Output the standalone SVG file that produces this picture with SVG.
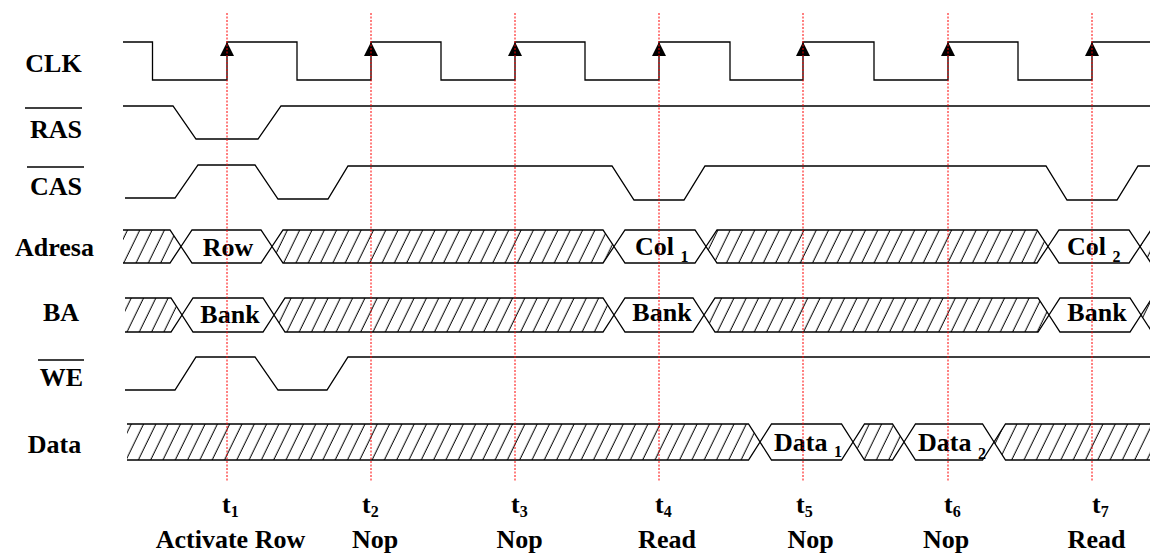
<svg xmlns="http://www.w3.org/2000/svg" xmlns:xlink="http://www.w3.org/1999/xlink" width="1150" height="555" viewBox="0 0 1150 555">
<style>
.lbl{font-family:"Liberation Serif","Times New Roman",serif;font-weight:bold;font-size:26px;fill:#000}
.sub{font-size:16px}
.sig{fill:none;stroke:#000;stroke-width:1.3}
.bus{stroke:#000;stroke-width:1.3;fill:#fff}
.hb{stroke:#000;stroke-width:1.3;fill:url(#hatch)}
.ov{stroke:#000;stroke-width:1.3}
.grid{stroke:#ff0000;stroke-width:1;stroke-dasharray:2 1.5}
</style>
<defs>
<pattern id="hatch" patternUnits="userSpaceOnUse" width="12.3" height="60" patternTransform="skewX(-26)">
<rect width="12.3" height="60" fill="#fff"/>
<line x1="6" y1="0" x2="6" y2="60" stroke="#000" stroke-width="1.1"/>
</pattern>
<path id="arr" d="M0,0 L-7,14 L7,14 Z" fill="#000"/>
</defs>
<rect width="1150" height="555" fill="#fff"/>

<g id="labels" class="lbl">
<text x="53.5" y="72" text-anchor="middle">CLK</text>
<text x="56" y="138" text-anchor="middle">RAS</text>
<line class="ov" x1="25" y1="108" x2="82" y2="108"/>
<text x="56" y="195" text-anchor="middle">CAS</text>
<line class="ov" x1="27" y1="167" x2="84" y2="167"/>
<text x="54.5" y="256" text-anchor="middle">Adresa</text>
<text x="61" y="321" text-anchor="middle">BA</text>
<text x="61.5" y="386" text-anchor="middle">WE</text>
<line class="ov" x1="38" y1="360" x2="84" y2="360"/>
<text x="54.5" y="453" text-anchor="middle">Data</text>
</g>

<g id="clk">
<path class="sig" d="M123,42 H152.5 V80 H227 V42 H297 V80 H371 V42 H441 V80 H515 V42 H585 V80 H659 V42 H730 V80 H803 V42 H874 V80 H948 V42 H1018 V80 H1092 V42 H1150"/>
<use xlink:href="#arr" x="227" y="42"/>
<use xlink:href="#arr" x="371" y="42"/>
<use xlink:href="#arr" x="515" y="42"/>
<use xlink:href="#arr" x="659" y="42"/>
<use xlink:href="#arr" x="803" y="42"/>
<use xlink:href="#arr" x="948" y="42"/>
<use xlink:href="#arr" x="1092" y="42"/>
</g>

<g id="ras">
<path class="sig" d="M123,106 H173 L196,139 H258 L281,106 H1150"/>
</g>

<g id="cas">
<path class="sig" d="M125,198 H175 L198,165 H255 L278,199 H328 L348,166 H612 L634,200 H684 L705,166 H1046 L1067,200 H1117 L1138,166 H1150"/>
</g>

<g id="adresa">
<path class="hb" d="M123,230 H170 L181,246.5 L170,263 H123"/>
<path class="bus" d="M181,246.5 L192,230 H261 L272,246.5 L261,263 H192 Z"/>
<path class="hb" d="M272,246.5 L283,230 H603 L614,246.5 L603,263 H283 Z"/>
<path class="bus" d="M614,246.5 L625,230 H695 L706,246.5 L695,263 H625 Z"/>
<path class="hb" d="M706,246.5 L717,230 H1037 L1048,246.5 L1037,263 H717 Z"/>
<path class="bus" d="M1048,246.5 L1059,230 H1129 L1140,246.5 L1129,263 H1059 Z"/>
<path class="hb" d="M1140,246.5 L1151,230 H1160 V263 H1151 Z"/>
<text class="lbl" x="228" y="256" text-anchor="middle">Row</text>
<text class="lbl" x="635" y="255">Col <tspan class="sub" dy="7">1</tspan></text>
<text class="lbl" x="1067" y="255">Col <tspan class="sub" dy="7">2</tspan></text>
</g>

<g id="ba">
<path class="hb" d="M125,298 H171 L182,315 L171,332 H125"/>
<path class="bus" d="M182,315 L193,298 H263 L274,315 L263,332 H193 Z"/>
<path class="hb" d="M274,315 L285,298 H603 L614,315 L603,332 H285 Z"/>
<path class="bus" d="M614,315 L625,298 H693 L704,315 L693,332 H625 Z"/>
<path class="hb" d="M704,315 L715,298 H1038 L1049,315 L1038,332 H715 Z"/>
<path class="bus" d="M1049,315 L1060,298 H1130 L1141,315 L1130,332 H1060 Z"/>
<path class="hb" d="M1141,315 L1152,298 H1160 V332 H1152 Z"/>
<text class="lbl" x="230" y="323" text-anchor="middle">Bank</text>
<text class="lbl" x="662" y="321" text-anchor="middle">Bank</text>
<text class="lbl" x="1097" y="321" text-anchor="middle">Bank</text>
</g>

<g id="we">
<path class="sig" d="M125,390 H175 L196,357 H255 L278,390 H327 L348,357 H1150"/>
</g>

<g id="data">
<path class="hb" d="M127,424 H748.5 L760,442 L748.5,460 H127"/>
<path class="bus" d="M760,442 L771.5,424 H841.5 L853,442 L841.5,460 H771.5 Z"/>
<path class="hb" d="M853,442 L864.5,424 H892.5 L904,442 L892.5,460 H864.5 Z"/>
<path class="bus" d="M904,442 L915.5,424 H982.5 L994,442 L982.5,460 H915.5 Z"/>
<path class="hb" d="M994,442 L1005.5,424 H1160 V460 H1005.5 Z"/>
<text class="lbl" x="774" y="451">Data <tspan class="sub" dy="6">1</tspan></text>
<text class="lbl" x="918" y="451">Data <tspan class="sub" dy="8">2</tspan></text>
</g>

<g id="grid">
<line class="grid" x1="227" y1="13" x2="227" y2="482"/>
<line class="grid" x1="371" y1="13" x2="371" y2="482"/>
<line class="grid" x1="515" y1="13" x2="515" y2="482"/>
<line class="grid" x1="659" y1="13" x2="659" y2="482"/>
<line class="grid" x1="803" y1="13" x2="803" y2="482"/>
<line class="grid" x1="948" y1="13" x2="948" y2="482"/>
<line class="grid" x1="1092" y1="13" x2="1092" y2="482"/>
</g>

<g id="times" class="lbl">
<text x="222" y="513">t<tspan class="sub" dy="4">1</tspan></text>
<text x="362" y="513">t<tspan class="sub" dy="4">2</tspan></text>
<text x="511" y="513">t<tspan class="sub" dy="4">3</tspan></text>
<text x="655" y="513">t<tspan class="sub" dy="4">4</tspan></text>
<text x="796" y="513">t<tspan class="sub" dy="4">5</tspan></text>
<text x="944" y="513">t<tspan class="sub" dy="4">6</tspan></text>
<text x="1092" y="513">t<tspan class="sub" dy="4">7</tspan></text>
<text x="230.5" y="548" text-anchor="middle">Activate Row</text>
<text x="375" y="548" text-anchor="middle">Nop</text>
<text x="519.5" y="548" text-anchor="middle">Nop</text>
<text x="667" y="548" text-anchor="middle">Read</text>
<text x="810.5" y="548" text-anchor="middle">Nop</text>
<text x="946" y="548" text-anchor="middle">Nop</text>
<text x="1096.5" y="548" text-anchor="middle">Read</text>
</g>
</svg>
